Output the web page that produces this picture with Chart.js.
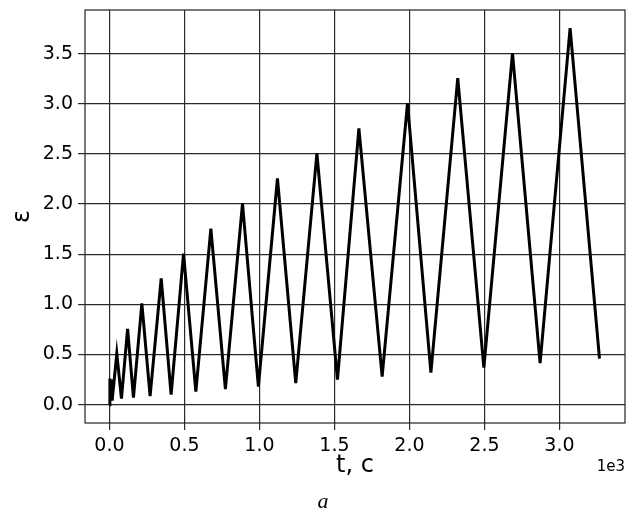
<!DOCTYPE html>
<html>
<head>
<meta charset="utf-8">
<script src="https://cdn.jsdelivr.net/npm/chart.js@4"></script>
<style>
  html, body { margin: 0; padding: 0; background: #fff; }
</style>
</head>
<body>
<canvas id="creep" width="633" height="513"></canvas>
<script>
// деформация при циклическом нагружении
const tValues = [0, 3, 8, 12, 18, 49, 80, 121, 160, 216, 271, 345, 411, 494, 576, 676, 773,
    887, 993, 1120, 1242, 1383, 1520, 1663, 1818, 1987, 2143, 2322, 2496, 2687, 2871, 3071, 3267];
const epsValues = [0, 0.26, 0.12, 0.25, 0.04, 0.51, 0.06, 0.755, 0.07, 1.01, 0.085, 1.26, 0.1,
    1.505, 0.13, 1.755, 0.155, 2.005, 0.18, 2.255, 0.215, 2.505, 0.25, 2.755, 0.28, 3.005, 0.32,
    3.255, 0.37, 3.505, 0.415, 3.755, 0.46];

const xTicks = [0, 500, 1000, 1500, 2000, 2500, 3000];
const yTicks = [0, 0.5, 1.0, 1.5, 2.0, 2.5, 3.0, 3.5];

const gridColor = '#2a2a2a';

// рамка вокруг области графика + подписи 1e3 и "a"
const extras = {
    id: 'extras',
    afterDraw(chart) {
        const c = chart.ctx;
        const a = chart.chartArea;
        c.save();
        c.strokeStyle = '#222';
        c.lineWidth = 1.2;
        c.strokeRect(a.left, a.top, a.right - a.left, a.bottom - a.top);
        c.fillStyle = '#000';
        c.textBaseline = 'middle';
        c.textAlign = 'right';
        c.font = '15px "DejaVu Sans"';
        c.fillText('1e3', a.right, 467);
        c.textAlign = 'center';
        c.font = 'italic 22px "Liberation Serif"';
        c.fillText('a', 323, 502);
        c.restore();
    }
};

new Chart(document.getElementById('creep'), {
    type: 'scatter',
    data: {
        datasets: [{
            data: tValues.map((t, i) => ({ x: t, y: epsValues[i] })),
            showLine: true,
            borderColor: '#000',
            borderWidth: 3,
            pointRadius: 0,
            tension: 0
        }]
    },
    options: {
        responsive: false,
        animation: false,
        devicePixelRatio: 1,
        layout: { padding: { left: 0, top: 10, right: 8, bottom: 0 } },
        plugins: { legend: { display: false }, tooltip: { enabled: false } },
        scales: {
            x: {
                type: 'linear',
                min: -163,
                max: 3437,
                afterBuildTicks: s => { s.ticks = xTicks.map(v => ({ value: v })); },
                afterFit: s => { s.height = 90; s.paddingLeft = 0; s.paddingRight = 0; },
                ticks: {
                    color: '#000',
                    font: { family: 'DejaVu Sans', size: 19 },
                    padding: 5,
                    maxRotation: 0,
                    callback: v => (v / 1000).toFixed(1)
                },
                grid: { color: gridColor, lineWidth: 1.2, tickLength: 7, tickColor: gridColor },
                border: { display: false },
                title: {
                    display: true,
                    text: 't, c',
                    color: '#000',
                    font: { family: 'DejaVu Sans', size: 24 },
                    padding: { top: 0, bottom: 33 }
                }
            },
            y: {
                type: 'linear',
                min: -0.183,
                max: 3.935,
                afterBuildTicks: s => { s.ticks = yTicks.map(v => ({ value: v })); },
                afterFit: s => { s.width = 85; s.paddingTop = 0; s.paddingBottom = 0; },
                ticks: {
                    color: '#000',
                    font: { family: 'DejaVu Sans', size: 19 },
                    padding: 5,
                    callback: v => v.toFixed(1)
                },
                grid: { color: gridColor, lineWidth: 1.2, tickLength: 7, tickColor: gridColor },
                border: { display: false },
                title: {
                    display: true,
                    text: 'ε',
                    color: '#000',
                    font: { family: 'DejaVu Sans', size: 24 },
                    padding: { top: 8, bottom: 0 }
                }
            }
        }
    },
    plugins: [extras]
});
</script>
</body>
</html>
